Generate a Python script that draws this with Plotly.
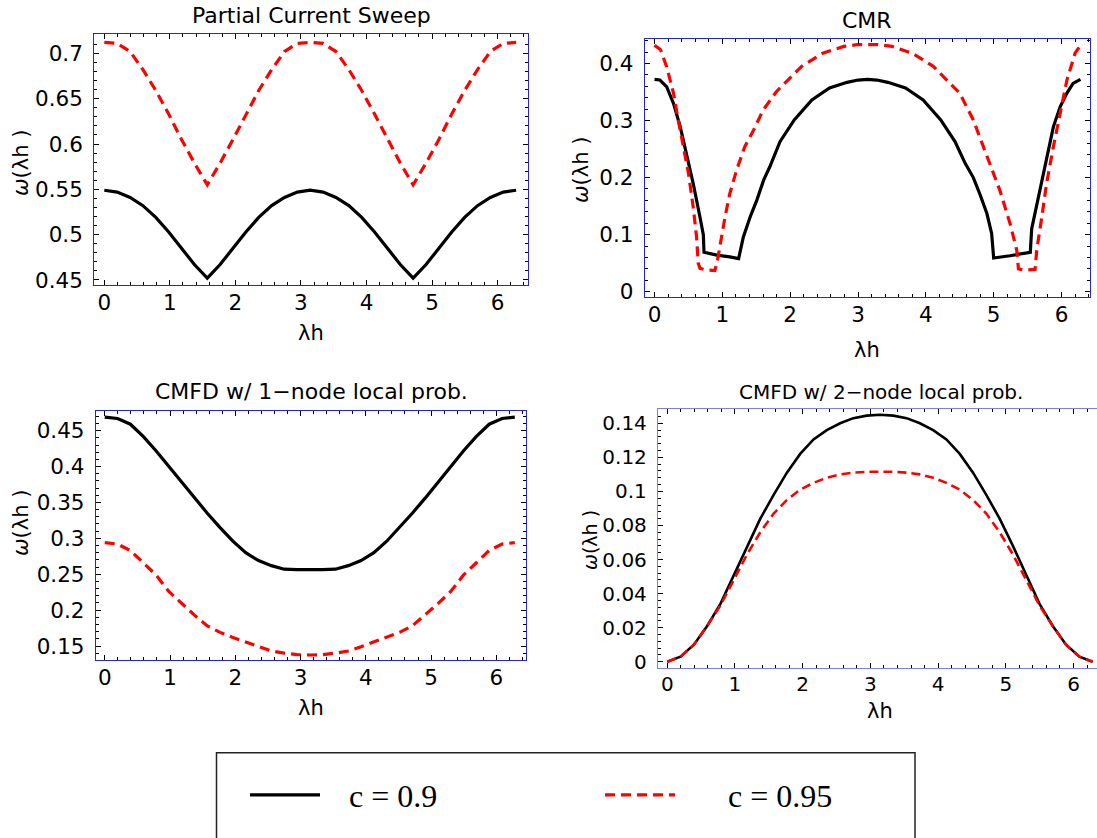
import plotly.graph_objects as go

W, H = 1097, 838

# ---------------- data ----------------
grid_x = [0.000, 0.196, 0.393, 0.589, 0.785, 0.982, 1.178, 1.374, 1.571, 1.767, 1.963,
          2.160, 2.356, 2.553, 2.749, 2.945, 3.142, 3.338, 3.534, 3.731, 3.927, 4.123,
          4.320, 4.516, 4.712, 4.909, 5.105, 5.301, 5.498, 5.694, 5.890, 6.087, 6.283]

pcs_c090 = [0.549, 0.547, 0.541, 0.532, 0.519, 0.503, 0.485, 0.467, 0.452, 0.467, 0.485,
            0.503, 0.519, 0.532, 0.541, 0.547, 0.549, 0.547, 0.541, 0.532, 0.519, 0.503,
            0.485, 0.467, 0.452, 0.467, 0.485, 0.503, 0.519, 0.532, 0.541, 0.547, 0.549]
pcs_c095 = [0.712, 0.711, 0.702, 0.682, 0.659, 0.633, 0.605, 0.579, 0.555, 0.579, 0.605,
            0.633, 0.659, 0.682, 0.702, 0.711, 0.712, 0.711, 0.702, 0.682, 0.659, 0.633,
            0.605, 0.579, 0.555, 0.579, 0.605, 0.633, 0.659, 0.682, 0.702, 0.711, 0.712]

cmr_x_c090 = [0.00, 0.08, 0.18, 0.28, 0.38, 0.47, 0.57, 0.67, 0.72, 0.73, 0.92, 1.11, 1.24,
              1.31, 1.41, 1.51, 1.61, 1.70, 1.85, 2.06, 2.32, 2.58, 2.84, 3.00, 3.14, 3.28,
              3.44, 3.70, 3.96, 4.22, 4.43, 4.58, 4.70, 4.80, 4.90, 4.97, 5.00, 5.24, 5.54,
              5.56, 5.68, 5.78, 5.88, 5.98, 6.08, 6.17, 6.28]
cmr_c090 = [0.372, 0.371, 0.359, 0.330, 0.289, 0.243, 0.190, 0.131, 0.100, 0.069, 0.064,
            0.061, 0.058, 0.096, 0.131, 0.161, 0.196, 0.219, 0.263, 0.301, 0.336, 0.357,
            0.367, 0.371, 0.372, 0.371, 0.367, 0.357, 0.336, 0.301, 0.263, 0.225, 0.200,
            0.170, 0.137, 0.102, 0.059, 0.063, 0.069, 0.110, 0.178, 0.237, 0.289, 0.324,
            0.348, 0.365, 0.372]

cmr_x_c095 = [0.00, 0.09, 0.18, 0.28, 0.35, 0.425, 0.50, 0.57, 0.62, 0.645, 0.67, 0.77,
              0.89, 0.93, 0.97, 1.04, 1.11, 1.21, 1.33, 1.46, 1.60, 1.80, 2.17, 2.48, 2.79,
              2.99, 3.14, 3.29, 3.50, 3.80, 4.11, 4.30, 4.50, 4.70, 4.90, 5.09, 5.24, 5.34,
              5.365, 5.45, 5.61, 5.635, 5.71, 5.78, 5.88, 5.98, 6.08, 6.20, 6.28]
cmr_c095 = [0.432, 0.424, 0.394, 0.348, 0.301, 0.254, 0.208, 0.149, 0.096, 0.050, 0.041,
            0.038, 0.037, 0.056, 0.085, 0.131, 0.172, 0.213, 0.254, 0.283, 0.318, 0.351,
            0.395, 0.418, 0.430, 0.433, 0.433, 0.433, 0.430, 0.418, 0.395, 0.372, 0.348,
            0.301, 0.237, 0.178, 0.120, 0.073, 0.040, 0.038, 0.039, 0.073, 0.131, 0.190,
            0.254, 0.313, 0.371, 0.418, 0.432]

cmfd1_c090 = [0.469, 0.467, 0.459, 0.442, 0.422, 0.400, 0.378, 0.356, 0.335, 0.315, 0.296,
              0.280, 0.269, 0.262, 0.257, 0.2565, 0.256, 0.2565, 0.257, 0.262, 0.269, 0.280,
              0.296, 0.315, 0.335, 0.356, 0.378, 0.400, 0.422, 0.442, 0.459, 0.467, 0.469]
cmfd1_c095 = [0.294, 0.292, 0.283, 0.266, 0.249, 0.226, 0.209, 0.193, 0.178, 0.169, 0.162,
              0.156, 0.149, 0.143, 0.140, 0.138, 0.1375, 0.138, 0.140, 0.143, 0.149, 0.156,
              0.162, 0.169, 0.178, 0.193, 0.209, 0.226, 0.249, 0.266, 0.283, 0.292, 0.294]

cmfd2_c090 = [0.000, 0.003, 0.010, 0.021, 0.034, 0.051, 0.068, 0.084, 0.098, 0.111, 0.122,
              0.1305, 0.136, 0.140, 0.143, 0.1445, 0.145, 0.1445, 0.143, 0.140, 0.136, 0.1305,
              0.122, 0.111, 0.098, 0.084, 0.068, 0.051, 0.034, 0.021, 0.010, 0.003, 0.000]
cmfd2_c095 = [0.000, 0.003, 0.010, 0.021, 0.033, 0.048, 0.063, 0.076, 0.087, 0.095, 0.101,
              0.105, 0.108, 0.110, 0.111, 0.1115, 0.1115, 0.1115, 0.111, 0.110, 0.108, 0.105,
              0.101, 0.095, 0.087, 0.076, 0.063, 0.048, 0.033, 0.021, 0.010, 0.003, 0.000]

series_names = ["c = 0.9", "c = 0.95"]
panel_titles = ["Partial Current Sweep", "CMR", "CMFD w/ 1\u2212node local prob.",
                "CMFD w/ 2\u2212node local prob."]
x_label = "\u03bbh"
y_label = "<i>\u03c9</i>(\u03bbh )"

# ---------------- styling ----------------
BLACK = "black"
RED = "#ff0000"
FRAME = "#2323e8"
FRAME4 = "#7d7df0"
SANS = "DejaVu Sans, Liberation Sans, Arial, sans-serif"
SERIF = "Liberation Serif, Times New Roman, serif"
NBSP = "\u00a0"


def px(x):
    return x / W


def py(y):
    return 1 - y / H


fig = go.Figure()

panels = [
    dict(xs=(grid_x, grid_x), ys=(pcs_c090, pcs_c095), lw=3.2, dash="10px,6px"),
    dict(xs=(cmr_x_c090, cmr_x_c095), ys=(cmr_c090, cmr_c095), lw=3.2, dash="10px,6px"),
    dict(xs=(grid_x, grid_x), ys=(cmfd1_c090, cmfd1_c095), lw=3.2, dash="10px,6px"),
    dict(xs=(grid_x, grid_x), ys=(cmfd2_c090, cmfd2_c095), lw=2.6, dash="9px,5px"),
]
legend_pad = [NBSP * 3, NBSP * 6]

for i, p in enumerate(panels):
    suffix = "" if i == 0 else str(i + 1)
    fig.add_trace(go.Scatter(
        x=p["xs"][0], y=p["ys"][0], mode="lines", name=legend_pad[0] + series_names[0],
        line=dict(color=BLACK, width=p["lw"]), legendgroup="a", showlegend=(i == 0),
        xaxis="x" + suffix, yaxis="y" + suffix))
    fig.add_trace(go.Scatter(
        x=p["xs"][1], y=p["ys"][1], mode="lines", name=legend_pad[1] + series_names[1],
        line=dict(color=RED, width=p["lw"], dash=p["dash"]), legendgroup="b",
        showlegend=(i == 0), xaxis="x" + suffix, yaxis="y" + suffix))


def axis(domain, rng, dtick, minor, frame, fsize, anchor, mirror="ticks", standoff=4):
    return dict(domain=domain, range=rng, anchor=anchor, showline=True, linecolor=frame,
                linewidth=1.3, mirror=mirror, ticks="inside", ticklen=5, tickwidth=1,
                tickcolor="black", showgrid=False, zeroline=False, tick0=0, dtick=dtick,
                tickfont=dict(family=SANS, size=fsize, color="black"),
                ticklabelstandoff=standoff,
                minor=dict(ticks="inside", ticklen=2.5, tickwidth=1, tickcolor="black",
                           dtick=minor, tick0=0, showgrid=False))


# pixel boxes of the four frames (left, top, right, bottom)
boxes = [(94.3, 34.3, 527.7, 284.7), (645, 39.3, 1090, 296.7),
         (96, 411.3, 526, 660), (658, 409.3, 1097, 667.7)]
xr = [(-0.153, 6.46), (-0.14, 6.42), (-0.134, 6.454), (-0.137, 6.347)]
yr = [(0.4448, 0.721), (-0.0088, 0.4424), (0.1305, 0.477), (-0.0035, 0.1482)]
ydt = [(0.05, 0.01), (0.1, 0.02), (0.05, 0.01), (0.02, 0.004)]

layout = {}
for i, (b, xrg, yrg, (dt, mdt)) in enumerate(zip(boxes, xr, yr, ydt)):
    suffix = "" if i == 0 else str(i + 1)
    frame = FRAME4 if i == 3 else FRAME
    fs = 20 if i == 3 else 21.5
    layout["xaxis" + suffix] = axis([px(b[0]), px(b[2])], list(xrg), 1, 0.2, frame, fs,
                                    "y" + suffix, standoff=-2)
    layout["yaxis" + suffix] = axis([py(b[3]), py(b[1])], list(yrg), dt, mdt, frame, fs,
                                    "x" + suffix, mirror=(False if i == 3 else "ticks"),
                                    standoff=6)

fig.update_layout(**layout)

annotations = []
title_pos = [(311, 16, 22), (867, 20, 22), (311, 392, 22), (881, 392, 20)]
for t, (x, y, s) in zip(panel_titles, title_pos):
    annotations.append(dict(text=t, x=px(x), y=py(y), xref="paper", yref="paper",
                            showarrow=False, xanchor="center", yanchor="middle",
                            font=dict(family=SANS, size=s, color="black")))
xl_pos = [(311, 333), (867, 350), (311, 708), (880, 711)]
for x, y in xl_pos:
    annotations.append(dict(text=x_label, x=px(x), y=py(y), xref="paper", yref="paper",
                            showarrow=False, xanchor="center", yanchor="middle",
                            font=dict(family=SANS, size=21, color="black")))
yl_pos = [(21, 163, 21), (581, 170, 21), (21, 523, 21), (590, 540, 19)]
for x, y, s in yl_pos:
    annotations.append(dict(text=y_label, x=px(x), y=py(y), xref="paper", yref="paper",
                            showarrow=False, xanchor="center", yanchor="middle",
                            textangle=-90, font=dict(family=SANS, size=s, color="black")))

fig.update_layout(
    width=W, height=H, margin=dict(l=0, r=0, t=0, b=0, autoexpand=False),
    paper_bgcolor="white", plot_bgcolor="white",
    annotations=annotations,
    shapes=[dict(type="rect", xref="paper", yref="paper", x0=px(216.5), x1=px(915),
                 y0=-0.1, y1=py(752.7), line=dict(color="#222222", width=1.5),
                 fillcolor="rgba(0,0,0,0)")],
    legend=dict(orientation="h", x=px(245), y=py(795), xanchor="left", yanchor="middle",
                font=dict(family=SERIF, size=32, color="black"), itemwidth=70,
                entrywidth=270, entrywidthmode="pixels", bgcolor="rgba(0,0,0,0)",
                borderwidth=0, traceorder="normal"),
)

fig.write_html("out.html")
